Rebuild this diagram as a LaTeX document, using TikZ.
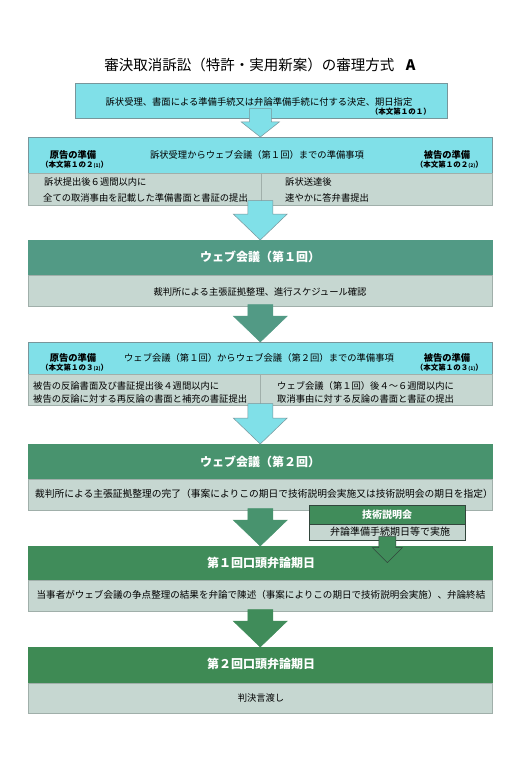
\documentclass[tikz,border=0pt]{standalone}
\usepackage{fontspec}
\setmainfont{Noto Sans CJK JP}
\usetikzlibrary{calc}
\definecolor{cyanF}{RGB}{128,224,232}
\definecolor{cyanD}{RGB}{120,150,155}
\definecolor{grayF}{RGB}{198,215,209}
\definecolor{grayD}{RGB}{160,175,170}
\definecolor{tealH}{RGB}{82,154,133}
\definecolor{greenA}{RGB}{72,147,110}
\definecolor{greenB}{RGB}{64,140,90}
\definecolor{greenC}{RGB}{62,138,84}
\definecolor{darkO}{RGB}{50,70,60}
\newcommand{\blkarrow}[5]{%
  \filldraw[fill=#3,draw=#4,line width=0.5pt,line join=miter]
   ($(#2.north |- #1.south)+(-12.5,-#5)$) -- ($(#2.north)+(-12.5,-26)$) --
   ($(#2.north)+(-27,-26)$) -- (#2.north) -- ($(#2.north)+(27,-26)$) --
   ($(#2.north)+(12.5,-26)$) -- ($(#2.north |- #1.south)+(12.5,-#5)$) -- cycle;}
\tikzset{
  x=1pt,y=-1pt,
  cybox/.style={draw=cyanD,fill=cyanF,line width=0.6pt,inner sep=0pt,anchor=north west},
  grbox/.style={draw=grayD,fill=grayF,line width=0.5pt,inner sep=0pt,anchor=north west},
  ghbox/.style={draw=#1,fill=#1,line width=0.5pt,inner sep=0pt,anchor=north west},
  lbl/.style={inner sep=0pt,font=\fontsize{9.3pt}{11pt}\selectfont},
  blbl/.style={inner sep=0pt,font=\fontsize{9.3pt}{11pt}\selectfont\bfseries},
  sub/.style={inner sep=0pt,font=\fontsize{7.5pt}{9pt}\selectfont\bfseries},
  hd/.style={inner sep=0pt,text=white,font=\fontsize{12pt}{14pt}\selectfont\bfseries},
}
\newcommand{\sm}[1]{{\fontsize{5pt}{6pt}\selectfont #1}}
\begin{document}
\begin{tikzpicture}
\useasboundingbox (0,0) rectangle (517,770);
\fill[white] (0,0) rectangle (517,770);
% title
\node[inner sep=0pt,font=\fontsize{14.5pt}{17pt}\selectfont] (title) at (260,65) {審決取消訴訟（特許・実用新案）の審理方式\hspace{0.8em}\textbf{A}};
% box 1
\node[cybox,minimum width=372pt,minimum height=35pt] (b1) at (75,83) {};
\node[lbl] (b1t) at (259,102) {訴状受理、書面による準備手続又は弁論準備手続に付する決定、期日指定};
\node[sub,anchor=east] (b1s) at (431,112) {（本文第１の１）};
% box 2
\node[cybox,minimum width=464pt,minimum height=36pt] (b2h) at (28,137) {};
\node[grbox,minimum width=233pt,minimum height=32pt] (b2l) at (28,173) {};
\node[grbox,minimum width=231pt,minimum height=32pt] (b2r) at (261,173) {};
\node[blbl] (b2a) at (73,155) {原告の準備};
\node[sub,anchor=west] (b2as) at (41,165) {（本文第１の２\sm{(1)}）};
\node[lbl] (b2c) at (257,155) {訴状受理からウェブ会議（第１回）までの準備事項};
\node[blbl] (b2b) at (447,155) {被告の準備};
\node[sub,anchor=east] (b2bs) at (483,165) {（本文第１の２\sm{(2)}）};
\node[lbl,anchor=west] (b2l1) at (44,182) {訴状提出後６週間以内に};
\node[lbl,anchor=west] (b2l2) at (43,198) {全ての取消事由を記載した準備書面と書証の提出};
\node[lbl,anchor=west] (b2r1) at (285,182) {訴状送達後};
\node[lbl,anchor=west] (b2r2) at (285,198) {速やかに答弁書提出};
% box 3
\node[ghbox=tealH,minimum width=464pt,minimum height=35pt] (b3h) at (28,240) {};
\node[grbox,minimum width=464pt,minimum height=31pt] (b3l) at (28,275) {};
\node[hd] (b3t) at (260,257) {ウェブ会議（第１回）};
\node[lbl] (b3s) at (260,292) {裁判所による主張証拠整理、進行スケジュール確認};
% box 4
\node[cybox,minimum width=464pt,minimum height=32pt] (b4h) at (28,342) {};
\node[grbox,minimum width=232pt,minimum height=31pt] (b4l) at (28,374) {};
\node[grbox,minimum width=232pt,minimum height=31pt] (b4r) at (260,374) {};
\node[blbl] (b4a) at (73,358) {原告の準備};
\node[sub,anchor=west] (b4as) at (41,368) {（本文第１の３\sm{(2)}）};
\node[lbl] (b4c) at (259,358) {ウェブ会議（第１回）からウェブ会議（第２回）までの準備事項};
\node[blbl] (b4b) at (447,358) {被告の準備};
\node[sub,anchor=east] (b4bs) at (483,368) {（本文第１の３\sm{(1)}）};
\node[lbl,anchor=west] (b4l1) at (33,386) {被告の反論書面及び書証提出後４週間以内に};
\node[lbl,anchor=west] (b4l2) at (33,399) {被告の反論に対する再反論の書面と補充の書証提出};
\node[lbl,anchor=west] (b4r1) at (277,386) {ウェブ会議（第１回）後４～６週間以内に};
\node[lbl,anchor=west] (b4r2) at (277,399) {取消事由に対する反論の書面と書証の提出};
% box 5
\node[ghbox=greenA,minimum width=464pt,minimum height=35pt] (b5h) at (28,444) {};
\node[grbox,minimum width=464pt,minimum height=31pt] (b5l) at (28,479) {};
\node[hd] (b5t) at (260,462) {ウェブ会議（第２回）};
\node[lbl,font=\fontsize{9.75pt}{11pt}\selectfont] (b5s) at (264,494) {裁判所による主張証拠整理の完了（事案によりこの期日で技術説明会実施又は技術説明会の期日を指定）};
% box 6
\node[ghbox=greenB,minimum width=464pt,minimum height=34pt] (b6h) at (28,546) {};
\node[grbox,minimum width=464pt,minimum height=31pt] (b6l) at (28,580) {};
\node[hd] (b6t) at (261,563) {第１回口頭弁論期日};
\node[lbl,font=\fontsize{9.55pt}{11pt}\selectfont] (b6s) at (261,595) {当事者がウェブ会議の争点整理の結果を弁論で陳述（事案によりこの期日で技術説明会実施）、弁論終結};
% box 7
\node[ghbox=greenC,minimum width=464pt,minimum height=36pt] (b7h) at (28,647) {};
\node[grbox,minimum width=464pt,minimum height=30pt] (b7l) at (28,683) {};
\node[hd] (b7t) at (261,664) {第２回口頭弁論期日};
\node[lbl] (b7s) at (261,698) {判決言渡し};
% technical explanation box
\node[draw=darkO,fill=greenB,line width=0.6pt,inner sep=0pt,anchor=north west,minimum width=156pt,minimum height=19pt] (tch) at (309,505) {};
\node[draw=darkO,fill=grayF,line width=0.6pt,inner sep=0pt,anchor=north west,minimum width=156pt,minimum height=16pt] (tcl) at (309,524) {};
\node[inner sep=0pt,text=white,font=\fontsize{10pt}{12pt}\selectfont\bfseries] (tct) at (387,515) {技術説明会};
\node[inner sep=0pt,font=\fontsize{10pt}{12pt}\selectfont] (tcs) at (390,532) {弁論準備手続期日等で実施};
\coordinate (tip) at ($(tcl.south)+(0,22)$);
\filldraw[fill=greenB,draw=darkO,line width=0.5pt]
  ($(tcl.south)+(-8.5,-4)$) -- ($(tip)+(-8.5,-15)$) -- ($(tip)+(-15,-15)$) -- (tip) --
  ($(tip)+(15,-15)$) -- ($(tip)+(8.5,-15)$) -- ($(tcl.south)+(8.5,-4)$) -- cycle;
% block arrows
\filldraw[fill=cyanF,draw=cyanD,line width=0.5pt]
  ($(b2h.north |- b1.south)+(-11,-10)$) -- ($(b2h.north)+(-11,-15)$) -- ($(b2h.north)+(-19,-15)$) -- (b2h.north) --
  ($(b2h.north)+(19,-15)$) -- ($(b2h.north)+(11,-15)$) -- ($(b2h.north |- b1.south)+(11,-10)$) -- cycle;
\blkarrow{b2l}{b3h}{cyanF}{cyanD}{5}
\blkarrow{b3l}{b4h}{tealH}{tealH}{2}
\blkarrow{b4l}{b5h}{cyanF}{cyanD}{2}
\blkarrow{b5l}{b6h}{greenA}{greenA}{2}
\blkarrow{b6l}{b7h}{greenB}{greenB}{2}
\end{tikzpicture}
\end{document}
